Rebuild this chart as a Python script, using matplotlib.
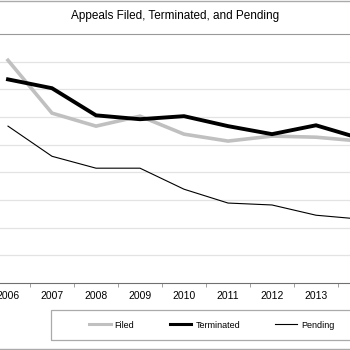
#!/usr/bin/env python3
"""Appeals filed, terminated and pending (cropped line chart)."""

import matplotlib
matplotlib.use("Agg")
import matplotlib.pyplot as plt
from matplotlib.lines import Line2D
from matplotlib.patches import Rectangle

plt.rcParams["font.family"] = ["Liberation Sans", "DejaVu Sans"]

years = ["2006", "2007", "2008", "2009", "2010", "2011", "2012", "2013", "2014"]
filed = [8050, 6140, 5670, 6030, 5380, 5130, 5310, 5270, 5130]
terminated = [7360, 7040, 6060, 5920, 6030, 5670, 5380, 5700, 5230]
pending = [5670, 4580, 4150, 4150, 3390, 2890, 2820, 2450, 2310]

W, H = 350, 350
fig = plt.figure(figsize=(3.5, 3.5), dpi=100)

# plot area runs past both image edges (the chart is cropped)
x0, x1 = -14, 382
y_top, y_bot = 34, 283
ax = fig.add_axes([x0 / W, (H - y_bot) / H, (x1 - x0) / W, (y_bot - y_top) / H])

x = list(range(len(years)))
ax.plot(x, filed, color="#c0c0c0", lw=2.6, solid_joinstyle="miter", label="Filed")
ax.plot(x, terminated, color="black", lw=2.8, solid_joinstyle="miter", label="Terminated")
ax.plot(x, pending, color="black", lw=0.8, label="Pending")

ax.set_xlim(-0.5, len(years) - 0.5)
ax.set_ylim(0, 9000)
ax.set_yticks(range(1000, 9000, 1000))
ax.yaxis.grid(True, color="#e3e3e3", lw=0.9)
ax.set_axisbelow(True)
ax.tick_params(axis="y", left=False, labelleft=False)

# last year's label falls outside the cropped picture
ax.set_xticks(x[:-1])
ax.set_xticklabels(years[:-1], fontsize=7.5)
ax.set_xticks([i + 0.5 for i in x[:-1]], minor=True)
ax.tick_params(axis="x", which="major", length=0, pad=6)
ax.tick_params(axis="x", which="minor", length=3, color="#909090")

for side in ["left", "right"]:
    ax.spines[side].set_visible(False)
ax.spines["top"].set_color("#999999")
ax.spines["bottom"].set_color("#707070")

# outer frame lines and title
fig.add_artist(Line2D([0, 1], [1 - 1 / H, 1 - 1 / H], color="#aaaaaa", lw=1))
fig.add_artist(Line2D([0, 1], [1 / H, 1 / H], color="#aaaaaa", lw=1))
fig.text(0.5, 1 - 16 / H, "Appeals Filed, Terminated, and Pending",
         ha="center", va="center", fontsize=8.5)

# legend box, cut off at right edge
fig.add_artist(Rectangle((51 / W, (H - 340) / H), 320 / W, 30 / H,
                         fill=False, edgecolor="#aaaaaa", lw=0.9))
handles = [
    Line2D([], [], color="#c0c0c0", lw=2.2),
    Line2D([], [], color="black", lw=2.2),
    Line2D([], [], color="black", lw=0.8),
]
fig.legend(handles, ["Filed", "Terminated", "Pending"], ncol=3, frameon=False,
           loc="center left", bbox_to_anchor=(89 / W, (H - 325) / H),
           fontsize=6.5, handlelength=2.4, handletextpad=0.45, columnspacing=3.9,
           borderpad=0, borderaxespad=0)

fig.savefig("out.png", dpi=100)
